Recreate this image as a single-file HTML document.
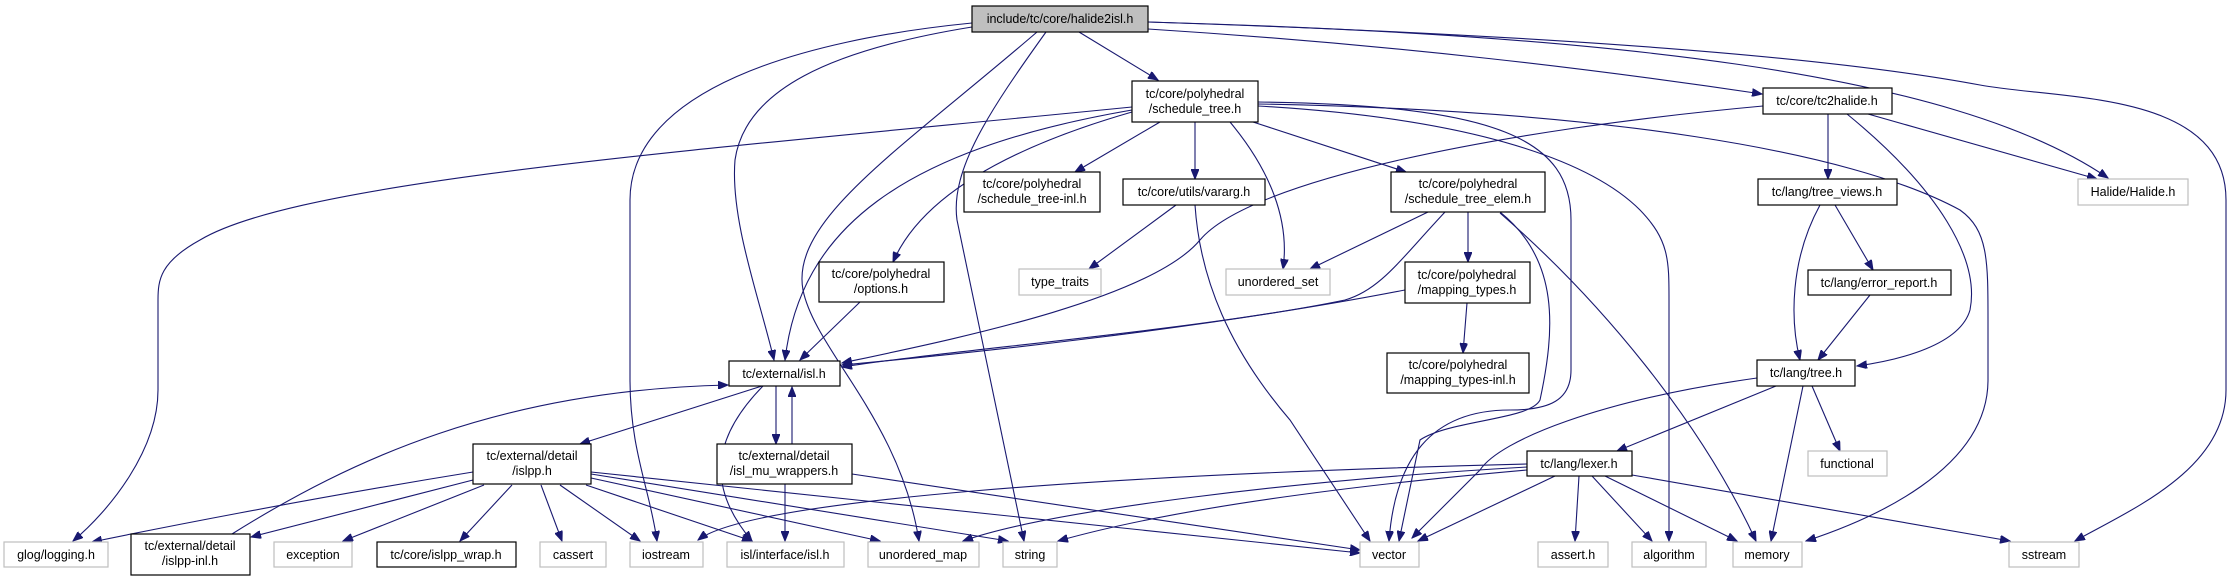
<!DOCTYPE html>
<html><head><meta charset="utf-8"><style>
html,body{margin:0;padding:0;background:#fff;}
svg{display:block;}
text{font-family:"Liberation Sans",Arial,sans-serif;font-size:12.5px;fill:#000;text-anchor:middle;}
.e{fill:none;stroke:#191970;stroke-width:1.1;marker-end:url(#a);}
.n{fill:#fff;stroke:#000;stroke-width:1.2;}
.g{fill:#fff;stroke:#bfbfbf;stroke-width:1.2;}
</style></head><body>
<svg width="2232" height="581" viewBox="0 0 2232 581" xmlns="http://www.w3.org/2000/svg">
<defs><marker id="a" markerUnits="userSpaceOnUse" markerWidth="11" markerHeight="8" refX="10" refY="4" orient="auto"><path d="M0,0 L10,4 L0,8 z" fill="#191970" stroke="#191970"/></marker></defs>
<g>
<path class="e" d="M1079,32 L1158,80"/>
<path class="e" d="M1148,29 C1400,45 1600,70 1762,94"/>
<path class="e" d="M1148,22 C1600,35 1950,70 2108,178"/>
<path class="e" d="M1148,22 C1700,40 1900,70 1980,85 C2060,100 2226,90 2226,200 L2226,390 C2226,470 2130,510 2075,541"/>
<path class="e" d="M972,23 C800,40 630,90 630,200 L630,380 C630,450 650,490 657,541"/>
<path class="e" d="M972,27 C830,50 745,90 735,160 C730,220 760,300 774,360"/>
<path class="e" d="M1037,32 C900,150 790,220 803,290 C815,350 900,420 919,541"/>
<path class="e" d="M1046,32 C990,110 950,170 957,220 L1024,541"/>
<path class="e" d="M1132,107 C700,150 300,180 200,240 C160,262 158,280 158,300 L158,390 C158,450 110,510 73,541"/>
<path class="e" d="M1132,112 C1000,150 920,200 893,262"/>
<path class="e" d="M1132,110 C900,150 800,230 785,360"/>
<path class="e" d="M1160,122 L1075,172"/>
<path class="e" d="M1195,122 L1195,179"/>
<path class="e" d="M1230,122 C1270,170 1290,220 1283,269"/>
<path class="e" d="M1253,122 L1406,172"/>
<path class="e" d="M1258,102 C1500,105 1571,140 1571,220 L1571,370 C1571,400 1550,410 1510,410 C1430,410 1395,460 1389,541"/>
<path class="e" d="M1258,106 C1500,120 1600,170 1640,210 C1669,240 1669,260 1669,300 L1669,541"/>
<path class="e" d="M1258,104 C1600,110 1850,150 1960,210 C1988,230 1988,260 1988,320 L1988,380 C1988,470 1870,520 1806,541"/>
<path class="e" d="M1763,106 C1500,130 1250,180 1200,240 C1150,300 950,340 842,363"/>
<path class="e" d="M1828,114 L1828,179"/>
<path class="e" d="M1868,114 L2097,179"/>
<path class="e" d="M1847,114 C1940,190 1980,260 1970,310 C1960,345 1900,360 1857,366"/>
<path class="e" d="M1820,205 C1790,260 1790,320 1800,360"/>
<path class="e" d="M1835,205 L1873,270"/>
<path class="e" d="M1870,295 L1818,360"/>
<path class="e" d="M1776,386 L1617,451"/>
<path class="e" d="M1812,386 L1840,451"/>
<path class="e" d="M1803,386 L1771,541"/>
<path class="e" d="M1757,378 C1600,400 1500,440 1480,470 L1412,538"/>
<path class="e" d="M1579,476 L1575,541"/>
<path class="e" d="M1592,476 L1652,541"/>
<path class="e" d="M1605,476 L1737,541"/>
<path class="e" d="M1632,475 L2010,541"/>
<path class="e" d="M1555,476 L1418,541"/>
<path class="e" d="M1527,470 C1300,490 1150,515 1058,541"/>
<path class="e" d="M1527,467 C1300,480 1050,510 963,541"/>
<path class="e" d="M1527,464 C1100,475 750,500 698,540"/>
<path class="e" d="M1176,205 L1089,269"/>
<path class="e" d="M1195,205 C1200,280 1230,350 1290,420 L1370,541"/>
<path class="e" d="M1428,212 L1310,269"/>
<path class="e" d="M1445,212 C1400,260 1380,290 1345,300 C1200,330 950,350 842,367"/>
<path class="e" d="M1468,212 L1468,262"/>
<path class="e" d="M1500,212 C1560,260 1555,330 1540,400 C1530,420 1450,420 1420,440 L1399,541"/>
<path class="e" d="M1500,213 C1600,300 1700,420 1756,541"/>
<path class="e" d="M1405,290 C1200,330 950,355 842,365"/>
<path class="e" d="M1467,303 L1463,353"/>
<path class="e" d="M860,302 L800,360"/>
<path class="e" d="M762,386 L580,444"/>
<path class="e" d="M776,386 L776,444"/>
<path class="e" d="M792,444 L792,387"/>
<path class="e" d="M763,386 C720,430 700,480 752,541"/>
<path class="e" d="M785,484 L785,541"/>
<path class="e" d="M852,474 L1360,550"/>
<path class="e" d="M232,534 C350,460 500,390 728,385"/>
<path class="e" d="M473,472 C300,500 150,530 92,542"/>
<path class="e" d="M473,480 L251,537"/>
<path class="e" d="M484,485 L343,541"/>
<path class="e" d="M512,485 L460,541"/>
<path class="e" d="M541,485 L562,541"/>
<path class="e" d="M560,485 L640,541"/>
<path class="e" d="M586,485 L752,541"/>
<path class="e" d="M591,478 L880,541"/>
<path class="e" d="M591,474 L1008,541"/>
<path class="e" d="M591,472 L1360,553"/>
</g>
<g>
<rect x="972" y="6" width="176" height="26" fill="#bfbfbf" stroke="#000" stroke-width="1.2"/><text x="1060" y="23">include/tc/core/halide2isl.h</text>
<rect class="n" x="1132" y="81" width="126" height="41"/><text x="1195" y="98">tc/core/polyhedral</text><text x="1195" y="113">/schedule_tree.h</text>
<rect class="n" x="964" y="172" width="136" height="40"/><text x="1032" y="188">tc/core/polyhedral</text><text x="1032" y="203">/schedule_tree-inl.h</text>
<rect class="n" x="1123" y="179" width="142" height="26"/><text x="1194" y="196">tc/core/utils/vararg.h</text>
<rect class="n" x="819" y="262" width="125" height="40"/><text x="881" y="278">tc/core/polyhedral</text><text x="881" y="293">/options.h</text>
<rect class="g" x="1019" y="269" width="82" height="26"/><text x="1060" y="286">type_traits</text>
<rect class="g" x="1226" y="269" width="104" height="26"/><text x="1278" y="286">unordered_set</text>
<rect class="n" x="1391" y="172" width="154" height="40"/><text x="1468" y="188">tc/core/polyhedral</text><text x="1468" y="203">/schedule_tree_elem.h</text>
<rect class="n" x="1405" y="262" width="125" height="41"/><text x="1467" y="279">tc/core/polyhedral</text><text x="1467" y="294">/mapping_types.h</text>
<rect class="n" x="1387" y="353" width="142" height="40"/><text x="1458" y="369">tc/core/polyhedral</text><text x="1458" y="384">/mapping_types-inl.h</text>
<rect class="n" x="1763" y="88" width="129" height="26"/><text x="1827" y="105">tc/core/tc2halide.h</text>
<rect class="n" x="1758" y="179" width="139" height="26"/><text x="1827" y="196">tc/lang/tree_views.h</text>
<rect class="g" x="2078" y="179" width="110" height="26"/><text x="2133" y="196">Halide/Halide.h</text>
<rect class="n" x="1808" y="270" width="143" height="25"/><text x="1879" y="287">tc/lang/error_report.h</text>
<rect class="n" x="1757" y="360" width="98" height="26"/><text x="1806" y="377">tc/lang/tree.h</text>
<rect class="g" x="1808" y="451" width="79" height="25"/><text x="1847" y="468">functional</text>
<rect class="n" x="1527" y="451" width="105" height="25"/><text x="1579" y="468">tc/lang/lexer.h</text>
<rect class="n" x="729" y="361" width="111" height="25"/><text x="784" y="378">tc/external/isl.h</text>
<rect class="n" x="473" y="444" width="118" height="40"/><text x="532" y="460">tc/external/detail</text><text x="532" y="475">/islpp.h</text>
<rect class="n" x="717" y="444" width="135" height="40"/><text x="784" y="460">tc/external/detail</text><text x="784" y="475">/isl_mu_wrappers.h</text>
<rect class="g" x="4" y="542" width="104" height="25"/><text x="56" y="559">glog/logging.h</text>
<rect class="n" x="131" y="534" width="119" height="41"/><text x="190" y="550">tc/external/detail</text><text x="190" y="565">/islpp-inl.h</text>
<rect class="g" x="274" y="542" width="78" height="25"/><text x="313" y="559">exception</text>
<rect class="n" x="377" y="542" width="139" height="25"/><text x="446" y="559">tc/core/islpp_wrap.h</text>
<rect class="g" x="540" y="542" width="66" height="25"/><text x="573" y="559">cassert</text>
<rect class="g" x="630" y="542" width="73" height="25"/><text x="666" y="559">iostream</text>
<rect class="g" x="727" y="542" width="117" height="25"/><text x="785" y="559">isl/interface/isl.h</text>
<rect class="g" x="868" y="542" width="111" height="25"/><text x="923" y="559">unordered_map</text>
<rect class="g" x="1003" y="542" width="54" height="25"/><text x="1030" y="559">string</text>
<rect class="g" x="1360" y="542" width="59" height="25"/><text x="1389" y="559">vector</text>
<rect class="g" x="1538" y="542" width="70" height="25"/><text x="1573" y="559">assert.h</text>
<rect class="g" x="1632" y="542" width="74" height="25"/><text x="1669" y="559">algorithm</text>
<rect class="g" x="1733" y="542" width="69" height="25"/><text x="1767" y="559">memory</text>
<rect class="g" x="2009" y="542" width="70" height="25"/><text x="2044" y="559">sstream</text>
</g>
</svg>
</body></html>
